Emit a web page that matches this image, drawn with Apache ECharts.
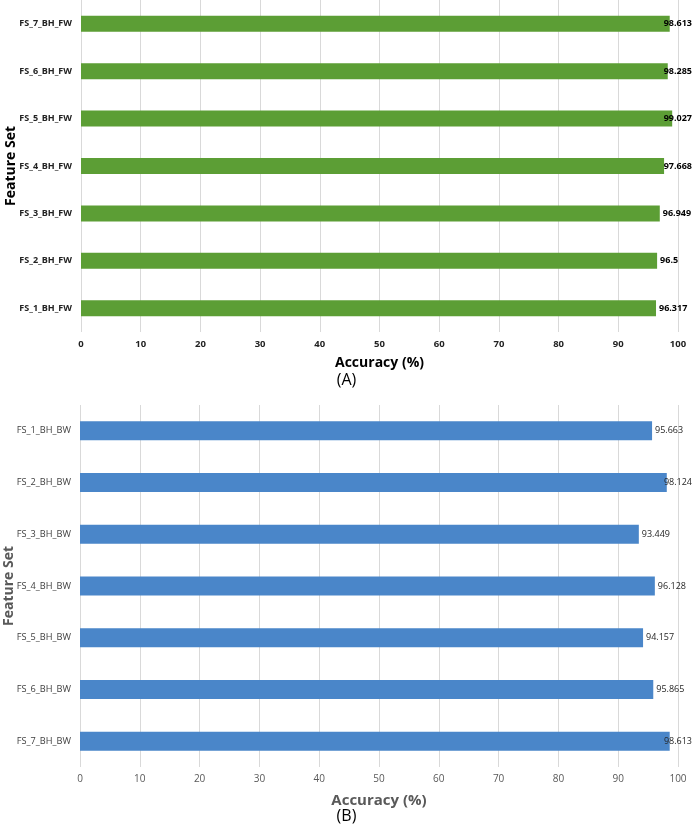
<!DOCTYPE html>
<html>
<head>
<meta charset="utf-8">
<script src="https://cdn.jsdelivr.net/npm/echarts@6/dist/echarts.min.js"></script>
<style>
  html, body { margin: 0; padding: 0; background: #fff; }
  #chart { width: 693px; height: 829px; }
</style>
</head>
<body>
<div id="chart"></div>
<script>
// chart (A): forward feature sets, listed bottom to top
const fwSets = ['FS_1_BH_FW', 'FS_2_BH_FW', 'FS_3_BH_FW', 'FS_4_BH_FW', 'FS_5_BH_FW', 'FS_6_BH_FW', 'FS_7_BH_FW'];
const fwAccuracy = [96.317, 96.5, 96.949, 97.668, 99.027, 98.285, 98.613];

// chart (B): backward feature sets, listed top to bottom
const bwSets = ['FS_1_BH_BW', 'FS_2_BH_BW', 'FS_3_BH_BW', 'FS_4_BH_BW', 'FS_5_BH_BW', 'FS_6_BH_BW', 'FS_7_BH_BW'];
const bwAccuracy = [95.663, 98.124, 93.449, 96.128, 94.157, 95.865, 98.613];

const xTicks = { min: 0, max: 100, interval: 10 };

const chart = echarts.init(document.getElementById('chart'));
const font = '"Open Sans", "Noto Sans", sans-serif';
const gridLine = { lineStyle: { color: '#d9d9d9', width: 1 } };

// keep value labels inside the canvas, like the original does near the right edge
function keepInside(params) {
    const r = params.labelRect;
    const limit = 692;
    if (r.x + r.width > limit) {
        return { x: limit - r.width, y: r.y, align: 'left', verticalAlign: 'top' };
    }
}

chart.setOption({
    animation: false,
    textStyle: { fontFamily: font },
    title: [
        { text: '(A)', left: 'center', top: 372, padding: 0,
          textStyle: { fontSize: 16, fontWeight: 'normal', color: '#000', fontFamily: font } },
        { text: '(B)', left: 'center', top: 808, padding: 0,
          textStyle: { fontSize: 16, fontWeight: 'normal', color: '#000', fontFamily: font } }
    ],
    grid: [
        { left: 81, right: 15, top: 0, height: 332, outerBoundsMode: 'none', containLabel: false },
        { left: 80, right: 15, top: 405, height: 362, outerBoundsMode: 'none', containLabel: false }
    ],
    xAxis: [
        {
            gridIndex: 0, type: 'value', min: xTicks.min, max: xTicks.max, interval: xTicks.interval,
            name: 'Accuracy (%)', nameLocation: 'middle', nameGap: 24,
            nameTextStyle: { fontSize: 14, fontWeight: 'bold', color: '#000' },
            axisLine: { show: false }, axisTick: { show: false },
            axisLabel: { fontSize: 9.5, fontWeight: 'bold', color: '#222', margin: 7 },
            splitLine: gridLine
        },
        {
            gridIndex: 1, type: 'value', min: xTicks.min, max: xTicks.max, interval: xTicks.interval,
            name: 'Accuracy (%)', nameLocation: 'middle', nameGap: 26,
            nameTextStyle: { fontSize: 15, fontWeight: 'bold', color: '#595959' },
            axisLine: { show: false }, axisTick: { show: false },
            axisLabel: { fontSize: 10, color: '#595959', margin: 7 },
            splitLine: gridLine
        }
    ],
    yAxis: [
        {
            gridIndex: 0, type: 'category', data: fwSets,
            name: 'Feature Set', nameLocation: 'middle', nameGap: 63, nameRotate: 90,
            nameMoveOverlap: false,
            nameTextStyle: { fontSize: 14, fontWeight: 'bold', color: '#000' },
            axisLine: { show: false }, axisTick: { show: false },
            axisLabel: { fontSize: 9, fontWeight: 'bold', color: '#222', margin: 9 }
        },
        {
            gridIndex: 1, type: 'category', data: bwSets, inverse: true,
            name: 'Feature Set', nameLocation: 'middle', nameGap: 64, nameRotate: 90,
            nameMoveOverlap: false,
            nameTextStyle: { fontSize: 14, fontWeight: 'bold', color: '#595959' },
            axisLine: { show: false }, axisTick: { show: false },
            axisLabel: { fontSize: 9.2, color: '#404040', margin: 9 }
        }
    ],
    series: [
        {
            type: 'bar', xAxisIndex: 0, yAxisIndex: 0, data: fwAccuracy, barWidth: 16,
            itemStyle: { color: '#5c9e35' },
            label: { show: true, position: 'right', distance: 3, fontSize: 9,
                     fontWeight: 'bold', color: '#000' },
            labelLayout: keepInside
        },
        {
            type: 'bar', xAxisIndex: 1, yAxisIndex: 1, data: bwAccuracy, barWidth: 19,
            itemStyle: { color: '#4a86c9' },
            label: { show: true, position: 'right', distance: 3, fontSize: 9,
                     color: '#262626' },
            labelLayout: keepInside
        }
    ]
});
</script>
</body>
</html>
